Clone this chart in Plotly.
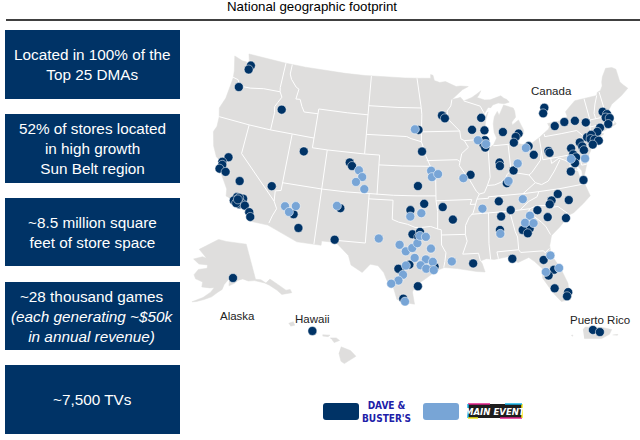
import numpy as np
import plotly.graph_objects as go

NAVY = "#003366"
LIGHT = "#78A5D6"
LAND = "#DFDEDD"

# store locations (lat / lon)
db_lat = [47.9, 47.45, 45.45, 44.25, 40.5, 38.3, 37.7, 37.4, 36.95, 36.8, 36.25, 36.45,
          34.6, 34.2, 34.6, 33.95, 34.1, 33.95, 33.4, 32.95, 34.6, 34.0, 34.4,
          34.05, 32.75, 35.3, 32.05, 40.0, 39.67,
          44.9, 44.36, 42.88, 43.1, 43.0, 42.6,
          43.25, 42.9, 42.6, 42.45, 41.9, 41.75, 41.4, 41.1, 41.25, 40.85, 40.7, 40.5, 40.25,
          40.75, 40.3, 39.9, 40.35, 39.7, 39.35, 38.8, 38.05, 36.95, 40.5, 40.3,
          45.15, 44.85, 43.7, 41.5, 44.7, 43.55, 43.4, 42.4, 42.0, 41.65, 43.05,
          42.7, 42.4, 41.85, 41.3, 40.35, 40.0, 39.65, 39.05, 37.85, 39.0, 38.0,
          36.2, 35.55, 35.85, 34.55, 36.1, 35.1, 34.55, 33.2,
          36.05, 35.5, 35.15, 35.25, 34.75, 33.9, 33.5, 33.0, 32.95, 32.55,
          29.65, 28.5, 28.0, 26.6, 26.0, 25.6, 30.15, 30.0,
          33.1, 33.35, 32.85, 30.0, 29.45, 29.55, 29.8, 27.8, 26.5]
db_lon = [-122.0, -122.15, -122.8, -116.15, -112.1, -121.5, -122.1, -122.0, -122.2, -121.35, -119.35, -115.3,
          -119.2, -119.45, -118.4, -118.7, -118.45, -118.0, -117.3, -117.05, -118.9, -119.1, -119.0,
          -112.0, -111.15, -106.45, -106.7, -105.9, -105.55,
          -79.1, -79.4, -78.15, -76.75, -75.3, -73.9,
          -71.3, -70.8, -71.1, -70.6, -71.0, -72.2, -72.7, -74.2, -73.6, -73.8, -73.3, -72.8, -73.7,
          -75.3, -75.1, -75.0, -76.6, -76.5, -76.2, -76.5, -77.25, -75.9, -79.6, -79.5,
          -93.6, -93.2, -96.9, -96.4, -88.1, -89.5, -87.8, -87.85, -88.1, -87.9, -85.3,
          -83.2, -83.65, -84.0, -82.1, -81.6, -86.2, -86.2, -84.5, -85.55, -90.1, -96.9,
          -96.1, -97.8, -93.8, -92.6, -86.8, -85.45, -86.7, -87.0,
          -79.4, -80.3, -80.6, -78.2, -82.2, -81.1, -78.95, -83.45, -84.3, -83.75,
          -82.35, -81.35, -82.05, -81.6, -80.2, -80.4, -85.9, -90.45,
          -97.5, -96.6, -96.8, -97.8, -98.85, -99.05, -94.9, -96.8, -98.4]

me_lat = [34.7, 34.9, 34.2, 35.5, 39.3, 38.65, 38.1, 37.45,
          39.3, 39.05, 43.75, 42.45, 42.0, 41.15, 39.7, 38.05, 38.7,
          39.55, 38.9, 39.2, 35.25, 34.9, 36.05, 35.5, 32.8,
          34.3, 33.65, 33.5, 30.0, 28.6, 28.4, 30.3,
          32.55, 32.0, 31.35, 31.7, 32.2, 32.95, 32.85, 31.65, 30.7, 30.55, 30.3,
          29.95, 29.6, 29.45, 29.9, 28.95, 28.35, 28.0, 26.2]
me_lon = [-113.2, -111.9, -112.6, -106.9, -104.6, -104.1, -104.84, -103.7,
          -76.9, -75.1, -97.4, -88.8, -87.75, -82.5, -83.85, -85.3, -91.05,
          -95.2, -95.1, -94.3, -96.45, -97.8, -83.8, -88.9, -87.0,
          -83.2, -83.9, -82.9, -81.5, -80.75, -82.3, -92.9,
          -101.5, -99.0, -98.25, -97.5, -96.9, -96.6, -95.9, -95.3, -97.2, -95.9, -95.1,
          -96.5, -95.85, -95.0, -98.2, -98.5, -99.0, -99.8, -98.2]

ak_lat = [61.2]
ak_lon = [-149.9]
hi_lat = [21.5]
hi_lon = [-158.0]
pr_lat = [18.36, 18.26]
pr_lon = [-66.7, -66.3]

box_text = ["Located in 100% of the<br>Top 25 DMAs",
            "52% of stores located<br>in high growth<br>Sun Belt region",
            "~8.5 million square<br>feet of store space",
            "~28 thousand games<br><i>(each generating ~$50k<br>in annual revenue)</i>",
            "~7,500 TVs"]
box_top = [30, 114, 198, 282, 365]
box_bottom = [99, 183, 266, 350, 434]

# lower 48 outline, lon/lat
us_outline = [
    (-124.7, 48.4), (-123.4, 48.13), (-122.75, 48.15), (-122.6, 47.5), (-122.3, 47.6), (-122.4, 48.3), (-122.76, 49),
    (-120, 49), (-117, 49), (-114, 49), (-111, 49), (-108, 49), (-105, 49), (-102, 49), (-99, 49), (-97, 49), (-95.15, 49),
    (-95.15, 49.38), (-94.8, 49.3), (-94.6, 48.75), (-93.8, 48.55), (-92.95, 48.62), (-92, 48.3), (-91.4, 48.07),
    (-90.75, 48.1), (-89.6, 48), (-90.5, 47.7), (-91.5, 47.1), (-92.1, 46.75), (-91.2, 46.87), (-90.85, 46.95),
    (-90.4, 46.55), (-89.2, 46.85), (-88.5, 47.15), (-87.8, 47.47), (-88.2, 47), (-88.45, 46.8), (-87.4, 46.5),
    (-86.6, 46.45), (-85, 46.75), (-84.6, 46.47), (-84.2, 46.3), (-83.9, 46), (-84.7, 45.9), (-85.5, 46.05),
    (-86.3, 45.9), (-86.6, 45.65), (-87, 45.7), (-87.6, 45.1), (-88, 44.55), (-87.4, 44.9), (-87.05, 45.25),
    (-87.5, 44.4), (-87.9, 43), (-87.8, 42.3), (-87.55, 41.75), (-87.2, 41.65), (-86.75, 41.85), (-86.25, 42.5),
    (-86.5, 43.1), (-86.45, 43.7), (-86.5, 44), (-86.25, 44.7), (-85.75, 45.2), (-85.55, 44.8), (-85, 45.4),
    (-84.75, 45.78), (-83.45, 45.35), (-83.3, 45), (-83.3, 44.4), (-83.9, 43.95), (-83.9, 43.65), (-83.4, 43.9),
    (-82.95, 44.07), (-82.45, 43), (-82.5, 42.6), (-83.1, 42.25), (-83.45, 41.72), (-82.7, 41.5), (-81.7, 41.5),
    (-80.5, 42), (-79.05, 42.7), (-78.9, 42.9), (-79.05, 43.27), (-77.6, 43.28), (-76.6, 43.45), (-76.2, 43.6),
    (-76.3, 44.1), (-75.8, 44.4), (-74.7, 45), (-71.5, 45), (-71.3, 45.3), (-70.8, 45.4), (-70.4, 45.8), (-70.3, 46.2),
    (-70, 46.7), (-69.2, 47.45), (-68.3, 47.35), (-67.8, 47.07), (-67.8, 45.7), (-67.45, 45.3), (-67, 44.85),
    (-68.2, 44.3), (-69, 44.05), (-69.8, 43.75), (-70.6, 43.1), (-70.8, 42.85), (-70.6, 42.65), (-71.05, 42.3),
    (-70.65, 41.95), (-70.5, 41.75), (-70, 41.8), (-70.2, 42.07), (-69.95, 41.7), (-70.65, 41.53), (-71.2, 41.48),
    (-71.85, 41.32), (-72.9, 41.25), (-73.65, 41), (-73.75, 40.85), (-72.65, 40.98), (-72.3, 41.15), (-71.9, 41.05),
    (-72.8, 40.72), (-73.95, 40.58), (-74, 40.45), (-74.1, 39.75), (-74.9, 38.95), (-75.5, 39.5), (-75.1, 38.8),
    (-75.05, 38.45), (-75.6, 37.5), (-75.95, 37.15), (-75.85, 37.9), (-76.2, 38.4), (-76.2, 39.3), (-76.05, 39.5),
    (-76.5, 39.15), (-76.45, 38.4), (-76.3, 37.6), (-76.3, 37), (-76, 36.9), (-75.85, 36.55), (-75.5, 35.25),
    (-76.5, 34.65), (-77.9, 33.9), (-78.9, 33.65), (-79.2, 33.2), (-79.9, 32.7), (-80.65, 32.25), (-81, 32),
    (-81.4, 31), (-81.4, 30.4), (-81.25, 29.8), (-80.55, 28.45), (-80.05, 26.9), (-80.15, 25.75), (-80.4, 25.2),
    (-81.1, 25.15), (-81.8, 26.1), (-82.2, 26.9), (-82.75, 27.8), (-82.65, 28.8), (-83.4, 29.6), (-84, 30.1),
    (-85.3, 29.7), (-86.4, 30.4), (-87.5, 30.3), (-88, 30.25), (-88.9, 30.4), (-89.6, 30.2), (-89.4, 29.9),
    (-89.15, 29.05), (-90.1, 29.15), (-91.3, 29.4), (-92.3, 29.55), (-93.8, 29.7), (-94.75, 29.35), (-95.9, 28.6),
    (-97.1, 27.85), (-97.4, 27.2), (-97.15, 25.95), (-98.3, 26.1), (-99.1, 26.4), (-99.5, 27.5), (-100.3, 28.3),
    (-100.7, 29.1), (-101.4, 29.77), (-102.3, 29.88), (-103.15, 28.98), (-104.5, 29.65), (-104.9, 30.6),
    (-106.5, 31.78), (-108.2, 31.78), (-108.2, 31.33), (-111.07, 31.33), (-114.8, 32.5), (-117.12, 32.53),
    (-117.3, 33), (-118.4, 33.75), (-118.5, 34.03), (-119.2, 34.15), (-120.5, 34.45), (-120.65, 35.15),
    (-121.9, 36.6), (-122, 36.95), (-122.5, 37.5), (-122.5, 37.8), (-123, 38), (-123.75, 39), (-124.35, 40.4),
    (-124.1, 41), (-124.2, 42), (-124.55, 42.85), (-124.1, 44), (-123.95, 46.2), (-124.1, 46.9), (-124.7, 48.4),
]

# state lines, lon/lat
state_lines = [
    [(-124, 46.25), (-123.2, 46.15), (-122.8, 45.65), (-122.2, 45.6), (-121.2, 45.65), (-119.3, 45.93), (-116.92, 46)],
    [(-117.03, 49), (-117.04, 46.42), (-116.92, 46), (-116.5, 45.5), (-116.9, 44.9), (-117.2, 44.4), (-117.03, 43.8), (-117.03, 42)],
    [(-124.2, 42), (-120, 42), (-117, 42), (-114, 42), (-111.05, 42)],
    [(-116.05, 49), (-116.05, 48), (-115.7, 47.5), (-114.8, 46.8), (-114.35, 46.65), (-114.5, 45.6), (-113.9, 45.65),
     (-113.45, 44.95), (-113, 44.45), (-111.5, 44.55), (-111.05, 44.5)],
    [(-111.05, 45), (-109, 45), (-107, 45), (-104.05, 45)],
    [(-111.05, 45), (-111.05, 41), (-109, 41), (-107, 41), (-104.05, 41), (-102.05, 41)],
    [(-104.05, 49), (-104.05, 41)],
    [(-114.05, 42), (-114.05, 36.2), (-114.75, 36.05), (-114.63, 35), (-114.15, 34.3), (-114.5, 33.5), (-114.72, 32.72)],
    [(-120, 42), (-120, 39), (-114.63, 35)],
    [(-109.05, 41), (-109.05, 31.33)],
    [(-114.05, 37), (-111, 37), (-109, 37), (-106, 37), (-103, 37), (-100, 37), (-97, 37), (-94.62, 37)],
    [(-103.04, 37), (-103.05, 32), (-106.6, 32), (-106.53, 31.78)],
    [(-103.04, 36.5), (-100, 36.5), (-100, 34.56), (-99.2, 34.3), (-98.1, 34.1), (-97.2, 33.8), (-96.5, 33.8), (-95.3, 33.9),
     (-94.48, 33.64), (-94.04, 33.55), (-94.04, 32), (-93.55, 31.2), (-93.7, 30.3), (-93.85, 29.7)],
    [(-94.62, 37), (-94.62, 36.5), (-94.43, 35.4), (-94.48, 33.64)],
    [(-94.62, 36.5), (-92, 36.5), (-90.15, 36.5), (-90.37, 36), (-89.7, 36)],
    [(-94.04, 33.02), (-91.17, 33)],
    [(-92.1, 46.75), (-92.3, 46.1), (-92.85, 45.6), (-92.75, 44.75), (-91.2, 43.5), (-91.1, 42.7), (-90.65, 42.5), (-90.15, 41.8),
     (-91.1, 41.2), (-91.4, 40.4), (-91.5, 40), (-90.7, 39), (-90.2, 38.7), (-90.2, 38.4), (-89.5, 37.3), (-89.15, 37), (-89.5, 36.5),
     (-89.7, 36), (-90.1, 35.1), (-90.6, 34.7), (-91.1, 33.9), (-91.17, 33), (-91, 32.3), (-91.6, 31), (-89.75, 31), (-89.6, 30.2)],
    [(-96.45, 43.5), (-94, 43.5), (-91.2, 43.5)],
    [(-97.2, 49), (-96.85, 47.6), (-96.55, 46), (-96.45, 45.3), (-96.45, 43.5), (-96.5, 42.5), (-96.1, 41.7), (-95.85, 41),
     (-95.3, 40), (-94.62, 39.1), (-94.62, 37)],
    [(-104.05, 45.94), (-100, 45.94), (-96.55, 45.94)],
    [(-104.05, 43), (-101, 43), (-98.5, 43), (-97.9, 42.8), (-96.5, 42.5)],
    [(-102.05, 41), (-102.05, 37)],
    [(-102.05, 40), (-99, 40), (-95.3, 40)],
    [(-95.77, 40.58), (-93, 40.6), (-91.73, 40.6), (-91.4, 40.4)],
    [(-90.65, 42.5), (-87.8, 42.5)],
    [(-87.53, 41.7), (-87.53, 39.3), (-87.6, 38.6), (-88.05, 37.8)],
    [(-89.15, 37), (-88.5, 37.1), (-88.05, 37.8), (-87.1, 37.8), (-86.3, 38), (-85.7, 38.3), (-85.4, 38.7), (-84.8, 39.1),
     (-84.3, 38.8), (-83.7, 38.65), (-82.6, 38.4), (-82.2, 38.6), (-81.75, 39), (-80.85, 39.7), (-80.52, 40.64)],
    [(-86.8, 41.76), (-84.8, 41.72), (-83.45, 41.72)],
    [(-84.8, 41.72), (-84.82, 39.1)],
    [(-80.52, 41.98), (-80.52, 39.72), (-78, 39.72), (-75.79, 39.72)],
    [(-79.76, 42.27), (-79.76, 42), (-77.5, 42), (-75.35, 42), (-74.7, 41.36), (-75.1, 40.9), (-75.2, 40.65), (-74.75, 40.2), (-75.4, 39.8)],
    [(-74.7, 41.36), (-73.9, 41)],
    [(-75.79, 39.72), (-75.7, 38.46), (-75.05, 38.45)],
    [(-79.48, 39.72), (-79.48, 39.2), (-78.4, 39.6), (-77.75, 39.3), (-77.1, 38.9), (-77.25, 38.4), (-76.3, 38)],
    [(-82.6, 38.4), (-81.95, 37.54), (-81.2, 37.25), (-80.3, 37.5), (-79.3, 38.4), (-78.35, 39.4)],
    [(-81.95, 37.54), (-83.68, 36.6)],
    [(-89.5, 36.5), (-88.05, 36.5), (-88.05, 36.65), (-86, 36.63), (-83.68, 36.6), (-81.68, 36.59), (-79, 36.55), (-75.85, 36.55)],
    [(-81.68, 36.59), (-82, 36.1), (-83.1, 35.75), (-84.3, 35)],
    [(-90.3, 35), (-88.2, 35), (-85.6, 35), (-84.3, 35), (-83.1, 35)],
    [(-88.2, 35), (-88.45, 31.9), (-88.4, 30.25)],
    [(-85.6, 35), (-85.2, 32.85), (-85, 32.3), (-85.05, 31), (-84.85, 30.7), (-82.2, 30.57), (-82.05, 30.35), (-81.5, 30.72)],
    [(-87.6, 31), (-85.05, 31)],
    [(-87.6, 31), (-87.5, 30.3)],
    [(-83.1, 35), (-83.35, 34.7), (-81.95, 33.5), (-81.5, 33), (-81.1, 32.1)],
    [(-83.1, 35), (-82.3, 35.2), (-81.05, 35.1), (-80.8, 34.82), (-79.65, 34.8), (-78.55, 33.87)],
    [(-73.35, 45), (-73.25, 43.6), (-73.27, 42.75), (-73.5, 42.05), (-73.65, 41)],
    [(-71.5, 45), (-72.05, 44.2), (-72.5, 43.3), (-72.46, 42.73)],
    [(-73.27, 42.75), (-71.3, 42.7), (-70.8, 42.85)],
    [(-73.5, 42.05), (-71.8, 42.02), (-71.38, 42.02), (-71.2, 41.48)],
    [(-71.8, 42.02), (-71.85, 41.32)],
    [(-71.05, 45.3), (-70.98, 43.4), (-70.7, 43.08)],
    [(-90.4, 46.55), (-88.1, 45.9), (-87.6, 45.1)],
]

ak_outline = [
    (-130, 55), (-131.8, 55.2), (-133.5, 55.2), (-134.5, 56.5), (-135.5, 57.5), (-136.5, 58.2), (-138, 59), (-139.7, 59.6),
    (-141.5, 60), (-144, 60.1), (-146, 60.8), (-148, 60.5), (-149.5, 59.8), (-151.7, 59.2), (-151.5, 60.3), (-150, 61.2),
    (-151.7, 60.9), (-153.5, 59.6), (-154.3, 58.3), (-156, 57.5), (-158, 56.3), (-160.5, 55.5), (-163, 54.8), (-164.5, 54.6),
    (-163, 55.3), (-161, 56), (-158.5, 57.5), (-157.3, 58.7), (-159, 58.6), (-162, 58.7), (-162, 60), (-165, 60.6), (-166, 61.6),
    (-165, 62.7), (-164.7, 63.1), (-161, 63.6), (-161, 64.5), (-165, 64.5), (-168, 65.6), (-164, 66.5), (-162, 66.2), (-163.5, 67),
    (-166.5, 68.3), (-163, 69.5), (-160, 70.5), (-156.6, 71.35), (-152, 70.8), (-148, 70.4), (-141, 69.65), (-141, 60.3),
    (-139, 60), (-137.5, 58.9), (-135.5, 59.7), (-133.5, 58), (-131.5, 56), (-130, 55.9), (-130, 55),
]
hi_islands = [
    [(-159.75, 22.1), (-159.4, 22.23), (-159.3, 21.95), (-159.6, 21.88)],
    [(-158.25, 21.55), (-157.95, 21.7), (-157.65, 21.3), (-158.1, 21.3)],
    [(-157.25, 21.2), (-156.7, 21.17), (-156.85, 21.05), (-157.25, 21.1)],
    [(-156.7, 20.95), (-156.25, 20.95), (-156, 20.75), (-156.4, 20.58), (-156.55, 20.8)],
    [(-155.9, 20.25), (-155.2, 19.95), (-154.8, 19.5), (-155.65, 18.92), (-155.9, 19.1), (-156.05, 19.75)],
]
pr_islands = [
    [(-67.27, 18.37), (-67.15, 18.5), (-66.1, 18.47), (-65.62, 18.38), (-65.75, 18.15), (-66.2, 17.95), (-67.2, 17.95)],
    [(-65.57, 18.12), (-65.27, 18.15), (-65.3, 18.1)],
    [(-67.95, 18.1), (-67.85, 18.12), (-67.88, 18.05)],
]


def albers(lon, lat, lon0, lat0, p1, p2):
    lon, lat = np.radians(lon), np.radians(lat)
    p1, p2, phi0 = np.radians(p1), np.radians(p2), np.radians(lat0)
    n = (np.sin(p1) + np.sin(p2)) / 2
    c = np.cos(p1) ** 2 + 2 * n * np.sin(p1)
    rho = np.sqrt(c - 2 * n * np.sin(lat)) / n
    rho0 = np.sqrt(c - 2 * n * np.sin(phi0)) / n
    theta = n * (lon - np.radians(lon0))
    return rho * np.sin(theta), rho0 - rho * np.cos(theta)


# each projection returns positions on the slide's 640x440 axes
def main_xy(lon, lat):
    x, y = albers(np.array(lon, float), np.array(lat, float), -96, 37.5, 29.5, 45.5)
    return 425 + 575 * x, 191 - 560 * y


def ak_xy(lon, lat):
    x, y = albers(np.array(lon, float), np.array(lat, float), -154, 50, 55, 65)
    ax, ay = albers(np.array(-149.9), np.array(61.2), -154, 50, 55, 65)
    return 233 + 293 * (x - ax), 278 - 220 * (y - ay)


def hi_xy(lon, lat):
    return 292 + 13.6 * (np.array(lon, float) + 159.5), 324 - 12.65 * (np.array(lat, float) - 22.05)


def pr_xy(lon, lat):
    return 583 + 17.4 * (np.array(lon, float) + 67.27), 327 - 21 * (np.array(lat, float) - 18.5)


def join(parts, proj):
    xs, ys = [], []
    for part in parts:
        x, y = proj([p[0] for p in part], [p[1] for p in part])
        xs += list(x) + [None]
        ys += list(y) + [None]
    return xs, ys


fig = go.Figure()


def add_land(parts, proj):
    x, y = join(parts, proj)
    fig.add_trace(go.Scatter(x=x, y=y, mode="lines", fill="toself", fillcolor=LAND,
                             line=dict(width=0.5, color=LAND), hoverinfo="skip"))


def add_stores(lat, lon, proj, color):
    x, y = proj(lon, lat)
    fig.add_trace(go.Scatter(x=x, y=y, mode="markers", hoverinfo="skip",
                             marker=dict(size=9, color=color, line=dict(color="white", width=0.5))))


add_land([us_outline], main_xy)
add_land([ak_outline], ak_xy)
add_land(hi_islands, hi_xy)
add_land(pr_islands, pr_xy)

sx, sy = join(state_lines, main_xy)
fig.add_trace(go.Scatter(x=sx, y=sy, mode="lines", line=dict(color="white", width=1), hoverinfo="skip"))

add_stores(db_lat, db_lon, main_xy, NAVY)
add_stores(me_lat, me_lon, main_xy, LIGHT)
add_stores(ak_lat, ak_lon, ak_xy, NAVY)
add_stores(hi_lat, hi_lon, hi_xy, NAVY)
add_stores(pr_lat, pr_lon, pr_xy, NAVY)


def label(x, y, text, size=11.5, color="#222222", family="Liberation Sans", **kw):
    return dict(x=x, y=y, xref="x", yref="y", text=text, showarrow=False,
                font=dict(size=size, color=color, family=family), **kw)


def rounded(x0, y0, x1, y1, r, color):
    path = (f"M {x0 + r} {y0} L {x1 - r} {y0} Q {x1} {y0} {x1} {y0 + r} L {x1} {y1 - r} Q {x1} {y1} {x1 - r} {y1} "
            f"L {x0 + r} {y1} Q {x0} {y1} {x0} {y1 - r} L {x0} {y0 + r} Q {x0} {y0} {x0 + r} {y0} Z")
    return dict(type="path", path=path, xref="x", yref="y", fillcolor=color, line=dict(width=0))


def accent(x0, y0, x1, y1, color):
    return dict(type="line", xref="x", yref="y", x0=x0, y0=y0, x1=x1, y1=y1, line=dict(color=color, width=1.5))


shapes = [dict(type="line", xref="x", yref="y", x0=6, x1=640, y0=20, y1=20, line=dict(color="black", width=1.3))]
annotations = [label(312, 6, "National geographic footprint", size=13.3, color="black")]

for text, top, bottom in zip(box_text, box_top, box_bottom):
    shapes.append(dict(type="rect", xref="x", yref="y", x0=5, x1=180, y0=top, y1=bottom,
                       fillcolor=NAVY, line=dict(width=0)))
    annotations.append(label(92.5, (top + bottom) / 2, text, size=15.3, color="white", align="center"))

annotations += [label(551, 91, "Canada"), label(237, 316, "Alaska"),
                label(312, 319, "Hawaii"), label(600, 320, "Puerto Rico")]

# legend, logos kept as plain text
shapes.append(rounded(323, 403, 359, 420, 3, NAVY))
shapes.append(rounded(423, 403, 459, 420, 3, LIGHT))
shapes.append(dict(type="rect", xref="x", yref="y", x0=468, x1=522, y0=404, y1=418,
                   fillcolor="#1E1E1E", line=dict(width=0)))
shapes += [accent(468, 404, 490, 404, "#E0218A"), accent(468, 404, 468, 418, "#18B4E8"),
           accent(468, 418, 478, 418, "#F5E616"), accent(500, 418, 522, 418, "#E0218A"),
           accent(522, 404, 522, 418, "#F5E616"), accent(505, 404, 522, 404, "#18B4E8")]
annotations.append(label(386, 412, "<b>DAVE &<br>BUSTER'S</b>", size=10, color="#2020A8",
                         family="DejaVu Sans Condensed"))
annotations.append(label(495, 411, "<b><i>MAIN EVENT</i></b>", size=9.5, color="white",
                         family="DejaVu Sans Condensed"))

fig.update_layout(
    width=640, height=440, autosize=False, showlegend=False,
    margin=dict(l=0, r=0, t=0, b=0),
    paper_bgcolor="white", plot_bgcolor="white",
    xaxis=dict(range=[0, 640], visible=False, fixedrange=True),
    yaxis=dict(range=[440, 0], visible=False, fixedrange=True),
    shapes=shapes, annotations=annotations,
)

fig.write_html("out.html", config=dict(displayModeBar=False),
               post_script="document.body.style.margin = '0';")
